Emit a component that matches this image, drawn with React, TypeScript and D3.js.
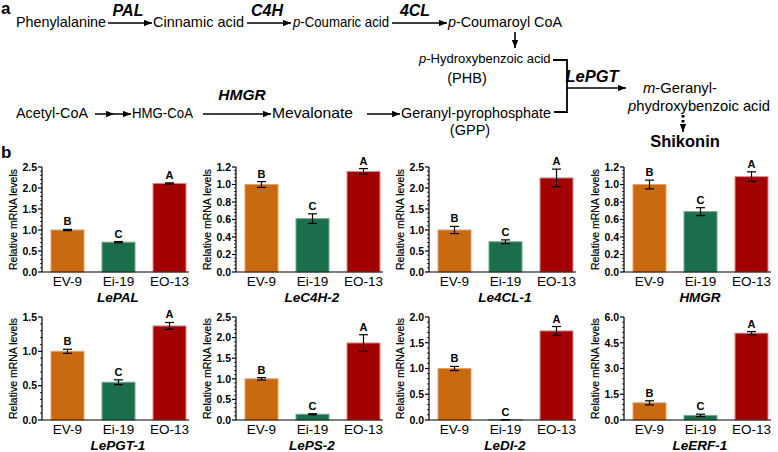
import React from "react";
import * as d3 from "d3";

const W = 778;
const H = 452;

const categories = ["EV-9", "Ei-19", "EO-13"];
const genes = ["LePAL", "LeC4H-2", "Le4CL-1", "HMGR", "LePGT-1", "LePS-2", "LeDI-2", "LeERF-1"];
const yMax = [2.5, 1.2, 2.5, 1.2, 1.5, 2.5, 2.0, 6.0];
const yStep = [0.5, 0.2, 0.5, 0.2, 0.5, 0.5, 0.5, 1.5];
const evValues = [1.0, 1.0, 1.0, 1.0, 1.0, 1.0, 1.0, 1.0];
const eiValues = [0.71, 0.61, 0.72, 0.69, 0.55, 0.14, 0.005, 0.27];
const eoValues = [2.11, 1.15, 2.24, 1.09, 1.37, 1.87, 1.73, 5.06];
const evErr = [0.015, 0.033, 0.085, 0.05, 0.03, 0.03, 0.04, 0.12];
const eiErr = [0.015, 0.055, 0.045, 0.045, 0.035, 0.012, 0.003, 0.07];
const eoErr = [0.012, 0.032, 0.21, 0.055, 0.05, 0.2, 0.085, 0.09];
const sigLetters = [["B", "C", "A"], ["B", "C", "A"], ["B", "C", "A"], ["B", "C", "A"], ["B", "C", "A"], ["B", "C", "A"], ["B", "C", "A"], ["B", "C", "A"]];

const fills = ["#C96A10", "#1B6E4B", "#A30202"];
const edges = ["#E6A066", "#6FAE8C", "#E58A8A"];

const FONT = "'Liberation Sans', Arial, Helvetica, sans-serif";

const panelX = [42, 236, 429, 624];
const rowTop = [167, 317];
const rowZero = [272, 420];

function Panel({ idx }: { idx: number }) {
  const row = Math.floor(idx / 4);
  const col = idx % 4;
  const ax = panelX[col];
  const top = rowTop[row];
  const zero = rowZero[row];
  const y = d3.scaleLinear().domain([0, yMax[idx]]).range([zero, top]);
  const x = d3.scaleBand<string>().domain(categories).range([ax, ax + 153]).paddingInner(1 / 3).paddingOuter(1 / 6);
  const vals = [evValues[idx], eiValues[idx], eoValues[idx]];
  const errs = [evErr[idx], eiErr[idx], eoErr[idx]];
  const nTicks = Math.round(yMax[idx] / yStep[idx]);
  const majors = d3.range(nTicks + 1).map((k) => k * yStep[idx]);
  const minors: number[] = [];
  for (let k = 0; k < nTicks; k++) {
    for (let m = 1; m < 5; m++) minors.push(k * yStep[idx] + (m * yStep[idx]) / 5);
  }
  const fmt = d3.format(".1f");
  const bw = x.bandwidth();
  return (
    <g>
      {vals.map((v, i) => {
        const cx = (x(categories[i]) as number) + bw / 2;
        const yt = y(v);
        const hi = y(v + errs[i]);
        const lo = y(Math.max(0, v - errs[i]));
        return (
          <g key={i}>
            <rect x={(x(categories[i]) as number) + 0.5} y={yt} width={bw - 1} height={Math.max(0, zero - yt)} fill={fills[i]} stroke={edges[i]} strokeWidth={1} />
            <line x1={cx} x2={cx} y1={hi} y2={lo} stroke="#000" strokeWidth={1.2} />
            <line x1={cx - 4.5} x2={cx + 4.5} y1={hi} y2={hi} stroke="#000" strokeWidth={1.2} />
            <line x1={cx - 4.5} x2={cx + 4.5} y1={lo} y2={lo} stroke="#000" strokeWidth={1.2} />
            <text x={cx} y={hi - 4} textAnchor="middle" fontSize={11} fontWeight="bold" fontFamily={FONT}>{sigLetters[idx][i]}</text>
            <text x={cx} y={zero + 14} textAnchor="middle" fontSize={13.5} fontFamily={FONT}>{categories[i]}</text>
          </g>
        );
      })}
      <line x1={ax} x2={ax} y1={top} y2={zero} stroke="#000" strokeWidth={1.2} />
      <line x1={ax} x2={ax + 147} y1={zero} y2={zero} stroke="#000" strokeWidth={1.2} />
      {majors.map((t) => (
        <g key={"M" + t}>
          <line x1={ax - 4} x2={ax} y1={y(t)} y2={y(t)} stroke="#000" strokeWidth={1.2} />
          <text x={ax - 5} y={y(t) + 3.8} textAnchor="end" fontSize={10.5} fontWeight="bold" fontFamily={FONT}>{fmt(t)}</text>
        </g>
      ))}
      {minors.map((t, k) => (
        <line key={"m" + k} x1={ax - 2} x2={ax} y1={y(t)} y2={y(t)} stroke="#000" strokeWidth={0.8} />
      ))}
      <text transform={`translate(${ax - 25},${(top + zero) / 2}) rotate(-90)`} textAnchor="middle" fontSize={10.5} fontFamily={FONT} stroke="#000" strokeWidth={0.2}>Relative mRNA levels</text>
      <text x={ax + 76} y={zero + 29.5} textAnchor="middle" fontSize={13.5} fontWeight="bold" fontStyle="italic" fontFamily={FONT}>{genes[idx]}</text>
    </g>
  );
}

export default function App() {
  const fs = 14.5;
  const fit = (n: number) => ({ textLength: n, lengthAdjust: "spacingAndGlyphs" as const });
  return (
    <svg width={W} height={H} viewBox={`0 0 ${W} ${H}`} style={{ position: "absolute", left: 0, top: 0, background: "#fff" }}>
      <defs>
        <marker id="ah" viewBox="0 0 10 8" refX="10" refY="4" markerWidth="8" markerHeight="6.4" markerUnits="userSpaceOnUse" orient="auto">
          <path d="M0,0 L10,4 L0,8 z" fill="#000" />
        </marker>
      </defs>
      <g fontFamily={FONT} fill="#000">
        <text x={1} y={14} fontSize={17} fontWeight="bold">a</text>
        <text x={1} y={158} fontSize={17} fontWeight="bold">b</text>

        <text x={16} y={27} fontSize={fs} {...fit(90)}>Phenylalanine</text>
        <line x1={108} x2={152} y1={23} y2={23} stroke="#000" strokeWidth={1.6} markerEnd="url(#ah)" />
        <text x={128} y={16} fontSize={16} fontWeight="bold" fontStyle="italic" textAnchor="middle">PAL</text>
        <text x={153} y={27} fontSize={fs} {...fit(91)}>Cinnamic acid</text>
        <line x1={247} x2={291} y1={23} y2={23} stroke="#000" strokeWidth={1.6} markerEnd="url(#ah)" />
        <text x={267} y={16} fontSize={16} fontWeight="bold" fontStyle="italic" textAnchor="middle">C4H</text>
        <text x={293} y={27} fontSize={fs} {...fit(96)}><tspan fontStyle="italic">p</tspan>-Coumaric acid</text>
        <line x1={392} x2={447} y1={23} y2={23} stroke="#000" strokeWidth={1.6} markerEnd="url(#ah)" />
        <text x={415} y={16} fontSize={16} fontWeight="bold" fontStyle="italic" textAnchor="middle">4CL</text>
        <text x={448} y={27} fontSize={fs} {...fit(114)}><tspan fontStyle="italic">p</tspan>-Coumaroyl CoA</text>

        <line x1={515} x2={515} y1={32} y2={48} stroke="#000" strokeWidth={1.6} markerEnd="url(#ah)" />
        <text x={419} y={63} fontSize={13}><tspan fontStyle="italic">p</tspan>-Hydroxybenzoic acid</text>
        <text x={467} y={83} fontSize={fs} textAnchor="middle">(PHB)</text>

        <path d="M553,60 H567 V112 H554" fill="none" stroke="#000" strokeWidth={1.8} />
        <line x1={567} x2={626} y1={88} y2={88} stroke="#000" strokeWidth={1.6} markerEnd="url(#ah)" />
        <text x={592} y={82} fontSize={16.5} fontWeight="bold" fontStyle="italic" textAnchor="middle">LePGT</text>

        <text x={643} y={93} fontSize={fs} {...fit(74)}><tspan fontStyle="italic">m</tspan>-Geranyl-</text>
        <text x={628} y={111} fontSize={fs} {...fit(142)}><tspan fontStyle="italic">p</tspan>hydroxybenzoic acid</text>
        <line x1={683} x2={683} y1={115} y2={125} stroke="#000" strokeWidth={3} strokeDasharray="2.5,2.5" />
        <line x1={683} x2={683} y1={124} y2={132} stroke="#000" strokeWidth={1.5} markerEnd="url(#ah)" />
        <text x={685} y={147} fontSize={16.5} fontWeight="bold" textAnchor="middle">Shikonin</text>

        <text x={16} y={118} fontSize={fs} {...fit(72)}>Acetyl-CoA</text>
        <polyline points="95,114 114,114 131,114" fill="none" stroke="#000" strokeWidth={1.6} markerMid="url(#ah)" markerEnd="url(#ah)" />
        <text x={132} y={118} fontSize={fs} {...fit(61)}>HMG-CoA</text>
        <line x1={203} x2={271} y1={114} y2={114} stroke="#000" strokeWidth={1.6} markerEnd="url(#ah)" />
        <text x={242} y={100} fontSize={15.5} fontWeight="bold" fontStyle="italic" textAnchor="middle">HMGR</text>
        <text x={272} y={118} fontSize={fs} {...fit(81)}>Mevalonate</text>
        <line x1={367} x2={400} y1={114} y2={114} stroke="#000" strokeWidth={1.6} markerEnd="url(#ah)" />
        <text x={401} y={118} fontSize={fs} {...fit(150)}>Geranyl-pyrophosphate</text>
        <text x={470} y={135} fontSize={fs} textAnchor="middle">(GPP)</text>
      </g>
      {genes.map((g, i) => (
        <Panel key={g} idx={i} />
      ))}
    </svg>
  );
}
